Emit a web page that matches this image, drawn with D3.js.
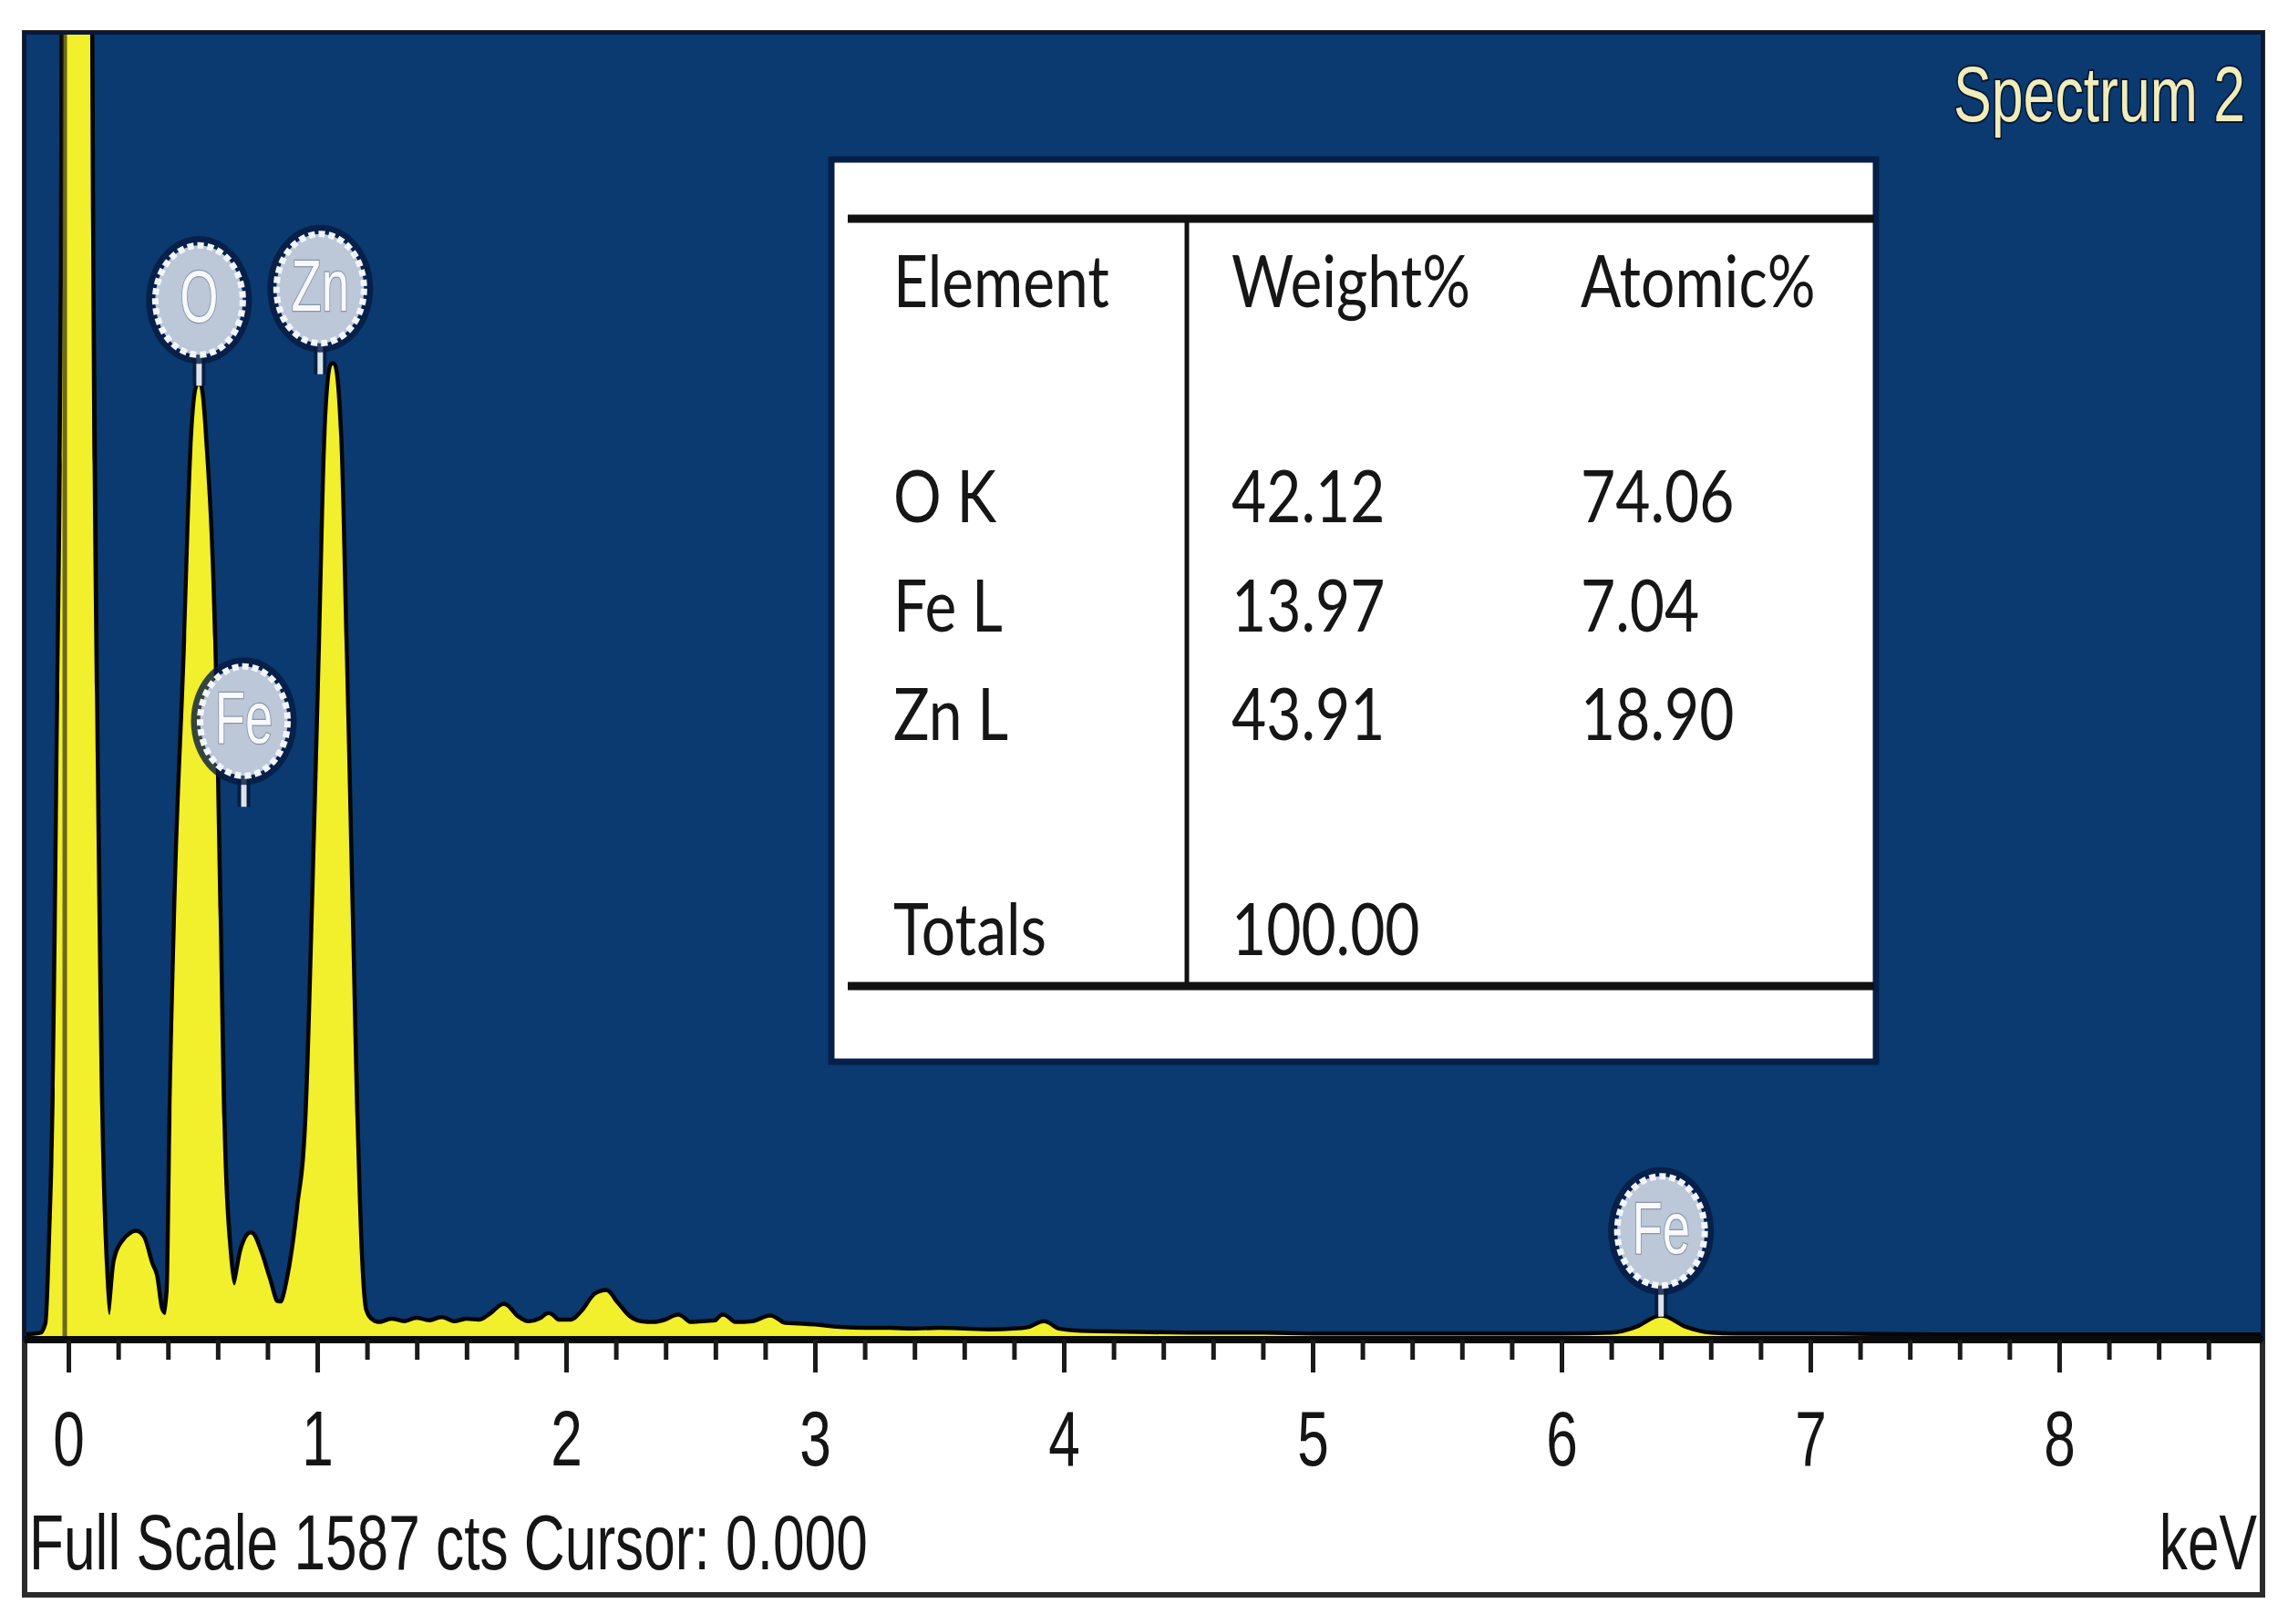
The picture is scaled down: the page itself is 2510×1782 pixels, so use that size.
<!DOCTYPE html>
<html>
<head>
<meta charset="utf-8">
<script src="https://cdn.jsdelivr.net/npm/d3@7"></script>
<style>
  html, body { margin: 0; padding: 0; background: #ffffff; }
  svg { display: block; }
</style>
</head>
<body>
<script>
// spectrum: energy (keV) and counts
const energies = [
    -0.176, -0.110, -0.084, -0.070, -0.055, -0.040, -0.022, -0.004, 0.040, 0.077, 0.092, 0.110, 0.128, 0.147, 0.165,
    0.190, 0.231, 0.249, 0.271, 0.297, 0.330, 0.348, 0.370, 0.388,
    0.403, 0.414, 0.432, 0.473, 0.498, 0.524, 0.549, 0.582, 0.604, 0.619, 0.641, 0.667,
    0.700, 0.733, 0.766, 0.802, 0.835, 0.857,
    0.890, 0.927, 0.960, 0.989, 1.015, 1.037, 1.062, 1.088, 1.110, 1.136, 1.154, 1.172, 1.190, 1.220,
    1.25, 1.30, 1.35, 1.40, 1.45, 1.50, 1.55, 1.60, 1.65, 1.70, 1.75, 1.80, 1.85, 1.90, 1.93, 1.97,
    2.02, 2.07, 2.12, 2.16, 2.20, 2.25, 2.30, 2.35, 2.40, 2.45, 2.50, 2.55, 2.60, 2.63, 2.68, 2.75,
    2.82, 2.88, 2.95, 3.00, 3.10, 3.20, 3.30, 3.40, 3.50, 3.60, 3.70, 3.80, 3.86, 3.92, 3.98,
    4.10, 4.30, 4.50, 4.80, 5.00, 5.50, 6.00, 6.20, 6.30, 6.40, 6.50, 6.60, 6.70, 7.00, 7.50, 8.00, 8.50, 8.817
];
const counts = [
    4, 6, 20, 120, 300, 700, 1300, 3000, 4800, 2400, 1300, 700, 280, 90, 30,
    96, 122, 127, 130, 124, 92, 78, 36, 30,
    60, 266, 510, 850, 1080, 1160, 1080, 850, 510, 266, 120, 66,
    110, 128, 108, 74, 45, 44,
    80, 160, 266, 550, 845, 1100, 1185, 1100, 845, 500, 266, 100, 35, 22,
    19, 23, 20, 24, 21, 25, 20, 23, 22, 30, 41, 27, 20, 24, 30, 22,
    22, 34, 54, 58, 44, 27, 20, 19, 22, 28, 19, 20, 21, 28, 19, 20,
    27, 18, 17, 16, 13, 12, 12, 11, 12, 11, 10, 11, 13, 20, 11,
    8, 7, 6, 6, 5, 5, 5, 6, 13, 27, 13, 6, 5, 5, 4, 4, 4, 4
];

const fullScale = 1587;
const tickLabels = ["0", "1", "2", "3", "4", "5", "6", "7", "8"];

// element markers
const markerLabels = ["O", "Fe", "Zn", "Fe"];
const markerEnergies = [0.525, 0.705, 1.012, 6.40];
const markerCounts = [1160, 648, 1174, 28];

// quantification table
const tableHeader = ["Element", "Weight%", "Atomic%"];
const elementRows = ["O K", "Fe L", "Zn L"];
const weightPct = [42.12, 13.97, 43.91];
const atomicPct = [74.06, 7.04, 18.90];
const totalWeight = 100.00;

const largeur = 2510, hauteur = 1782;
const plotLeft = 27, plotRight = 2482, plotTop = 38, plotBottom = 1470, frameBottom = 1750;

const svgSpace = d3.select("body").append("svg")
    .attr("width", largeur)
    .attr("height", hauteur);

svgSpace.append("rect").attr("width", largeur).attr("height", hauteur).attr("fill", "#ffffff");

const x = d3.scaleLinear().domain([-0.176, 8.817]).range([plotLeft, plotRight]);
const y = d3.scaleLinear().domain([0, fullScale]).range([plotBottom, plotTop]);

// frame + blue plot area
svgSpace.append("rect")
    .attr("x", plotLeft).attr("y", plotTop - 2)
    .attr("width", plotRight - plotLeft).attr("height", frameBottom - plotTop + 2)
    .attr("fill", "#ffffff").attr("stroke", "#2b2b2b").attr("stroke-width", 6);

svgSpace.append("rect")
    .attr("x", plotLeft).attr("y", plotTop - 2)
    .attr("width", plotRight - plotLeft).attr("height", plotBottom - plotTop + 2)
    .attr("fill", "#0a3a6f").attr("stroke", "#07183a").attr("stroke-width", 4);

svgSpace.append("clipPath").attr("id", "plotClip")
    .append("rect")
    .attr("x", plotLeft + 2).attr("y", plotTop)
    .attr("width", plotRight - plotLeft - 4).attr("height", plotBottom - plotTop);

const spectrum = energies.map((e, i) => ({ e: e, c: counts[i] }));

const area = d3.area()
    .x(d => x(d.e))
    .y0(plotBottom)
    .y1(d => y(d.c))
    .curve(d3.curveMonotoneX);

const specG = svgSpace.append("g").attr("clip-path", "url(#plotClip)");

// dark outline under the fill
specG.append("path")
    .datum(spectrum)
    .attr("d", area)
    .attr("fill", "#050505")
    .attr("stroke", "#050505")
    .attr("stroke-width", 9)
    .attr("stroke-linejoin", "round");

specG.append("path")
    .datum(spectrum)
    .attr("d", area)
    .attr("fill", "#f2ef2c");

// cursor line at 0.000
specG.append("line")
    .attr("x1", x(0) - 4).attr("x2", x(0) - 4)
    .attr("y1", plotTop).attr("y2", plotBottom)
    .attr("stroke", "#3d3d18").attr("stroke-width", 5).attr("opacity", 0.75);

// element markers
const markerG = svgSpace.append("g");
markerLabels.forEach((lab, i) => {
    const cx = x(markerEnergies[i]);
    const stemBottom = y(markerCounts[i]);
    const rx = 48, ry = 60, stem = 34;
    const cy = stemBottom - stem - ry;

    markerG.append("line")
        .attr("x1", cx).attr("x2", cx).attr("y1", cy + ry).attr("y2", stemBottom)
        .attr("stroke", "#061530").attr("stroke-width", 14).attr("opacity", 0.7);
    markerG.append("line")
        .attr("x1", cx).attr("x2", cx).attr("y1", cy + ry).attr("y2", stemBottom)
        .attr("stroke", "#dde3ec").attr("stroke-width", 6);

    markerG.append("ellipse")
        .attr("cx", cx).attr("cy", cy).attr("rx", rx + 10).attr("ry", ry + 10)
        .attr("fill", "#061a40").attr("opacity", 0.8);
    markerG.append("ellipse")
        .attr("cx", cx).attr("cy", cy).attr("rx", rx).attr("ry", ry)
        .attr("fill", "#bcc7d8")
        .attr("stroke", "#f2f6fc").attr("stroke-width", 7)
        .attr("stroke-dasharray", "7 4");
    markerG.append("text")
        .text(lab)
        .attr("transform", `translate(${cx},${cy + 24}) scale(0.68,1)`)
        .attr("text-anchor", "middle")
        .style("font-family", "'Liberation Sans', Arial, sans-serif")
        .style("font-size", "80px")
        .attr("fill", "#f7f9fc")
        .attr("stroke", "#8b95a4").attr("stroke-width", 2.5)
        .style("paint-order", "stroke");
});

// title
const specTitle = svgSpace.append("text")
    .text("Spectrum 2")
    .attr("text-anchor", "end")
    .style("font-family", "'Liberation Sans', Arial, sans-serif")
    .style("font-size", "85px")
    .attr("fill", "#eeedbb")
    .attr("stroke", "#0a1430").attr("stroke-width", 4)
    .style("paint-order", "stroke");
const titleW = specTitle.node().getComputedTextLength();
specTitle.attr("transform", `translate(2463,133) scale(${320 / titleW},1)`);

// table box
const tab = svgSpace.append("g");
tab.append("rect")
    .attr("x", 912).attr("y", 175).attr("width", 1146).attr("height", 990)
    .attr("fill", "#ffffff").attr("stroke", "#061f48").attr("stroke-width", 7);
tab.append("line").attr("x1", 930).attr("x2", 2056).attr("y1", 240).attr("y2", 240)
    .attr("stroke", "#111").attr("stroke-width", 9);
tab.append("line").attr("x1", 930).attr("x2", 2056).attr("y1", 1082).attr("y2", 1082)
    .attr("stroke", "#111").attr("stroke-width", 9);
tab.append("line").attr("x1", 1302).attr("x2", 1302).attr("y1", 240).attr("y2", 1082)
    .attr("stroke", "#111").attr("stroke-width", 5);

const colX = [980, 1351, 1734];
const rowY = [573, 693, 812];
const cells = [];
tableHeader.forEach((h, j) => cells.push({ t: h, x: colX[j], y: 337 }));
elementRows.forEach((r, i) => {
    cells.push({ t: r, x: colX[0], y: rowY[i] });
    cells.push({ t: weightPct[i].toFixed(2), x: colX[1], y: rowY[i] });
    cells.push({ t: atomicPct[i].toFixed(2), x: colX[2], y: rowY[i] });
});
cells.push({ t: "Totals", x: colX[0], y: 1048 });
cells.push({ t: totalWeight.toFixed(2), x: colX[1], y: 1048 });

const cellTxt = tab.selectAll("text.cell")
    .data(cells)
    .enter()
    .append("text")
    .attr("class", "cell")
    .text(d => d.t)
    .style("font-family", "Lato, 'Open Sans', sans-serif")
    .style("font-size", "80px")
    .attr("fill", "#161616");
const tabScale = 237 / cellTxt.filter(d => d.t === "Element").node().getComputedTextLength();
cellTxt.attr("transform", d => `translate(${d.x},${d.y}) scale(${tabScale},1)`);

// x axis band
svgSpace.append("line")
    .attr("x1", plotLeft).attr("x2", plotRight)
    .attr("y1", plotBottom).attr("y2", plotBottom)
    .attr("stroke", "#0b0b0b").attr("stroke-width", 8);

const minorTicks = d3.range(0, 44).map(i => i * 0.2).filter((d, i) => i % 5 !== 0);
const majorTicks = d3.range(0, 9);

const minorAxis = svgSpace.append("g")
    .attr("transform", `translate(0,${plotBottom})`)
    .call(d3.axisBottom(x).tickValues(minorTicks).tickSize(22).tickFormat(""));
minorAxis.select(".domain").remove();
minorAxis.selectAll("line").attr("stroke", "#1a1a1a").attr("stroke-width", 5);

const majorAxis = svgSpace.append("g")
    .attr("transform", `translate(0,${plotBottom})`)
    .call(d3.axisBottom(x).tickValues(majorTicks).tickSize(36).tickFormat((d, i) => tickLabels[i]));
majorAxis.select(".domain").remove();
majorAxis.selectAll("line").attr("stroke", "#1a1a1a").attr("stroke-width", 5);

const footer = svgSpace.append("text")
    .text("Full Scale " + fullScale + " cts Cursor: 0.000")
    .style("font-family", "'Liberation Sans', Arial, sans-serif")
    .style("font-size", "85px")
    .attr("fill", "#151515");
const axisScale = 920 / footer.node().getComputedTextLength();
footer.attr("transform", `translate(32,1722) scale(${axisScale},1)`);

majorAxis.selectAll("text")
    .attr("y", 138)
    .attr("dy", 0)
    .attr("transform", `scale(${axisScale},1)`)
    .style("font-family", "'Liberation Sans', Arial, sans-serif")
    .style("font-size", "85px")
    .attr("fill", "#151515");

svgSpace.append("text")
    .text("keV")
    .attr("text-anchor", "end")
    .attr("transform", `translate(2476,1722) scale(${axisScale},1)`)
    .style("font-family", "'Liberation Sans', Arial, sans-serif")
    .style("font-size", "85px")
    .attr("fill", "#151515");
</script>
</body>
</html>
